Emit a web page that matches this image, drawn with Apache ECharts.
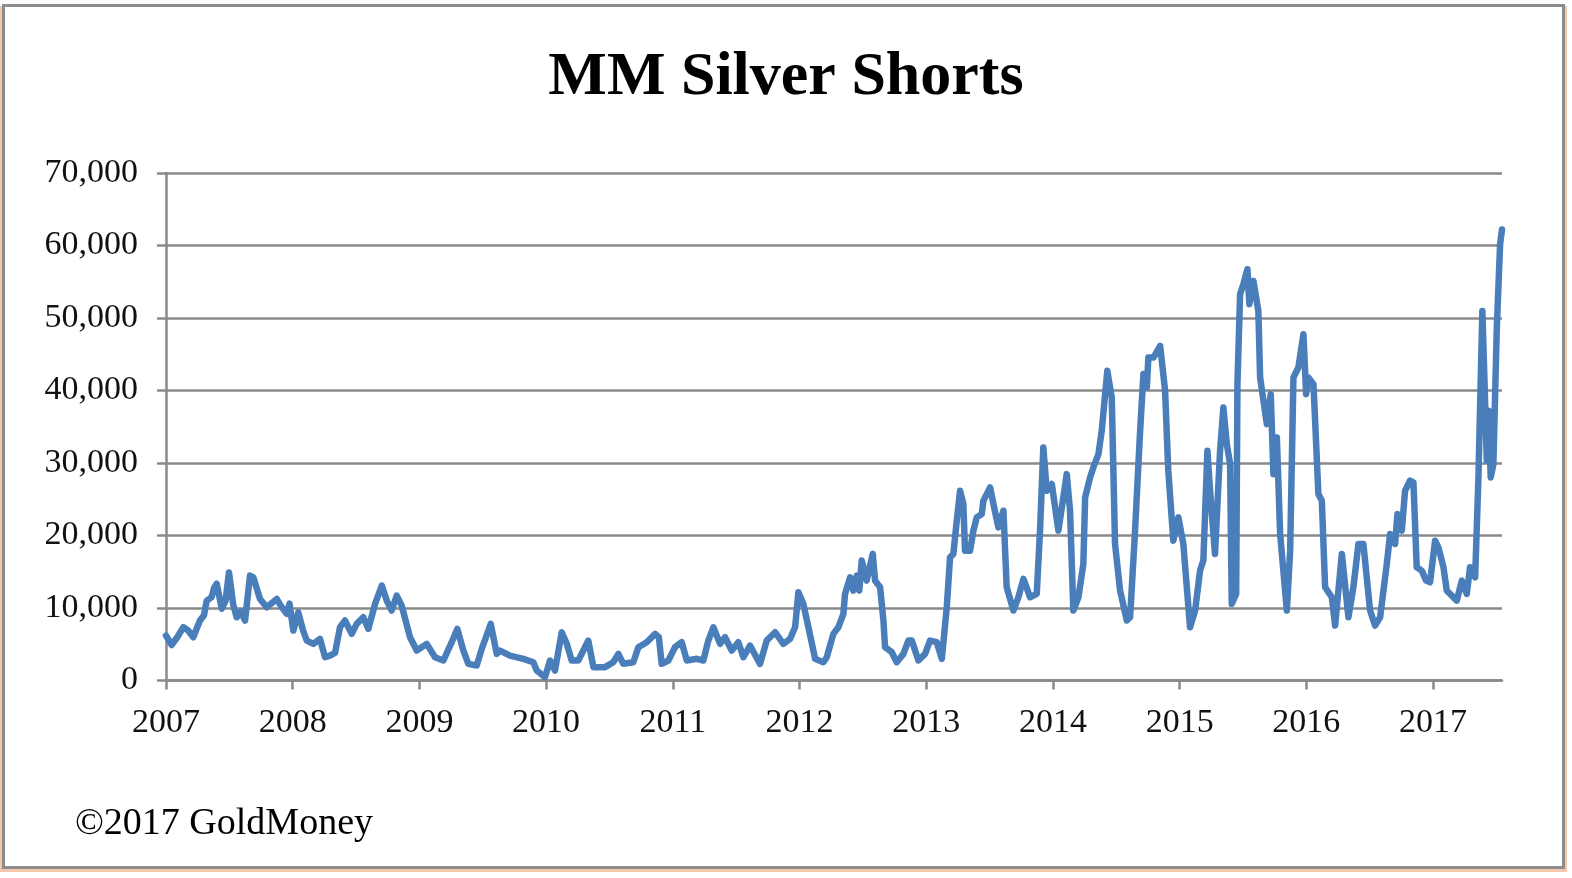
<!DOCTYPE html>
<html>
<head>
<meta charset="utf-8">
<script src="https://cdn.jsdelivr.net/npm/echarts@6/dist/echarts.min.js"></script>
<style>
html,body{margin:0;padding:0;background:#fff;}
#chart{width:1572px;height:878px;}
</style>
</head>
<body>
<div id="chart"></div>
<script>
// ---- data (decimal year, managed-money silver shorts, contracts) ----
const titleText = 'MM Silver Shorts';
const sourceText = '\u00A92017 GoldMoney';
const yearTicks = [2007, 2008, 2009, 2010, 2011, 2012, 2013, 2014, 2015, 2016, 2017];
const yTicks = [0, 10000, 20000, 30000, 40000, 50000, 60000, 70000];

const dates = [
  2007.000, 2007.045, 2007.090, 2007.137, 2007.175, 2007.215, 2007.268, 2007.300, 2007.321, 2007.360,
  2007.380, 2007.400, 2007.440, 2007.470, 2007.497, 2007.530, 2007.558, 2007.590, 2007.624, 2007.663,
  2007.689, 2007.742, 2007.795, 2007.874, 2007.910, 2007.953, 2007.975, 2008.005, 2008.044, 2008.080,
  2008.111, 2008.163, 2008.215, 2008.255, 2008.294, 2008.334, 2008.373, 2008.413, 2008.466, 2008.505,
  2008.557, 2008.597, 2008.650, 2008.703, 2008.742, 2008.781, 2008.821, 2008.860, 2008.926, 2008.979,
  2009.058, 2009.123, 2009.189, 2009.255, 2009.299, 2009.347, 2009.386, 2009.452, 2009.492, 2009.563,
  2009.610, 2009.636, 2009.715, 2009.820, 2009.899, 2009.926, 2009.991, 2010.031, 2010.070, 2010.123,
  2010.163, 2010.202, 2010.254, 2010.333, 2010.373, 2010.465, 2010.530, 2010.570, 2010.609, 2010.688,
  2010.728, 2010.794, 2010.860, 2010.890, 2010.912, 2010.965, 2011.017, 2011.070, 2011.110, 2011.189,
  2011.241, 2011.280, 2011.320, 2011.373, 2011.412, 2011.465, 2011.517, 2011.557, 2011.609, 2011.688,
  2011.741, 2011.807, 2011.872, 2011.925, 2011.965, 2011.991, 2012.030, 2012.070, 2012.123, 2012.188,
  2012.215, 2012.267, 2012.306, 2012.346, 2012.359, 2012.399, 2012.425, 2012.452, 2012.472, 2012.491,
  2012.530, 2012.578, 2012.596, 2012.636, 2012.662, 2012.675, 2012.728, 2012.767, 2012.820, 2012.859,
  2012.886, 2012.938, 2012.991, 2013.030, 2013.083, 2013.123, 2013.162, 2013.188, 2013.214, 2013.241,
  2013.267, 2013.293, 2013.306, 2013.346, 2013.372, 2013.399, 2013.438, 2013.451, 2013.504, 2013.530,
  2013.569, 2013.609, 2013.635, 2013.688, 2013.727, 2013.767, 2013.820, 2013.872, 2013.898, 2013.924,
  2013.951, 2013.991, 2014.043, 2014.109, 2014.135, 2014.161, 2014.201, 2014.240, 2014.254, 2014.293,
  2014.319, 2014.359, 2014.385, 2014.429, 2014.464, 2014.490, 2014.530, 2014.583, 2014.609, 2014.648,
  2014.688, 2014.714, 2014.741, 2014.753, 2014.793, 2014.846, 2014.885, 2014.910, 2014.950, 2014.990,
  2015.029, 2015.082, 2015.122, 2015.161, 2015.187, 2015.219, 2015.240, 2015.279, 2015.319, 2015.345,
  2015.372, 2015.398, 2015.411, 2015.446, 2015.456, 2015.477, 2015.503, 2015.535, 2015.550, 2015.582,
  2015.621, 2015.635, 2015.688, 2015.719, 2015.740, 2015.767, 2015.793, 2015.846, 2015.872, 2015.898,
  2015.937, 2015.977, 2015.998, 2016.016, 2016.056, 2016.095, 2016.122, 2016.148, 2016.201, 2016.227,
  2016.280, 2016.332, 2016.371, 2016.411, 2016.450, 2016.503, 2016.542, 2016.582, 2016.635, 2016.661,
  2016.700, 2016.719, 2016.753, 2016.779, 2016.818, 2016.845, 2016.871, 2016.911, 2016.945, 2016.976,
  2017.016, 2017.042, 2017.082, 2017.108, 2017.148, 2017.187, 2017.227, 2017.266, 2017.292, 2017.332,
  2017.358, 2017.389, 2017.405, 2017.424, 2017.437, 2017.455, 2017.476, 2017.503, 2017.529, 2017.544
];

const shorts = [
  6200, 4900, 6000, 7350, 6900, 5970, 8270, 9000, 11000, 11500,
  12800, 13350, 9900, 11000, 14900, 10500, 8720, 9500, 8270, 14470,
  14230, 11250, 10100, 11250, 10200, 9190, 10600, 6890, 9410, 7000,
  5510, 5050, 5740, 3210, 3440, 3800, 7340, 8270, 6430, 7810,
  8720, 7120, 10570, 13090, 11020, 9650, 11710, 10330, 5970, 4130,
  5050, 3210, 2760, 5280, 7120, 4130, 2300, 2070, 4360, 7810,
  3670, 4130, 3440, 2990, 2520, 1380, 460, 2760, 1380, 6660,
  5050, 2760, 2760, 5510, 1840, 1840, 2520, 3670, 2300, 2520,
  4590, 5280, 6430, 5970, 2300, 2760, 4590, 5280, 2760, 2990,
  2760, 5510, 7340, 5050, 5970, 4130, 5280, 3210, 4820, 2300,
  5510, 6660, 5050, 5740, 7340, 12170, 10570, 7340, 2990, 2520,
  3210, 6430, 7340, 9190, 11940, 14230, 12400, 14470, 12400, 16540,
  13780, 17460, 13780, 12860, 8270, 4590, 3900, 2520, 3670, 5510,
  5510, 2760, 3670, 5510, 5280, 2990, 10100, 16990, 17460, 22050,
  26180, 24350, 17910, 17910, 20670, 22500, 22960, 24800, 26640, 24350,
  21120, 23420, 12860, 9650, 11480, 14010, 11480, 11940, 20670, 32150,
  26180, 27100, 20670, 28470, 23420, 9650, 11480, 16080, 25260, 28010,
  29390, 31230, 34450, 42720, 39050, 18830, 12400, 8270, 8720, 20670,
  34450, 42260, 40420, 44550, 44550, 46160, 40000, 29000, 19290, 22500,
  18830, 7340, 9650, 15160, 16540, 31690, 26180, 17460, 31690, 37660,
  32610, 29850, 10570, 11940, 40880, 53290, 54660, 56730, 51910, 55120,
  50980, 41790, 35360, 39500, 28470, 33530, 20210, 9650, 17910, 41790,
  43170, 47760, 39500, 41790, 40880, 25720, 24800, 12860, 11480, 7580,
  17460, 8720, 12860, 18830, 18830, 9650, 7580, 8720, 16080, 20210,
  18830, 22960, 20670, 26180, 27560, 27330, 15620, 15160, 13780, 13550,
  19290, 18370, 15620, 12400, 11710, 11020, 13780, 11940, 15620, 14230,
  28010, 50980, 41790, 30310, 37200, 28010, 29850, 48680, 60150, 62200
];

const seriesData = dates.map((d, i) => [d, shorts[i]]);

const FONT = "'Liberation Serif', 'Times New Roman', serif";
const GRID_GRAY = '#8a8a8a';

const chart = echarts.init(document.getElementById('chart'), null, {renderer: 'canvas'});
chart.setOption({
  backgroundColor: '#ffffff',
  animation: false,
  title: {
    text: titleText,
    left: 'center',
    top: 42,
    textStyle: {fontFamily: FONT, fontSize: 62, fontWeight: 'bold', color: '#000'}
  },
  graphic: [
    {type: 'rect', z: -10, silent: true, shape: {x: 0, y: 6, width: 1567, height: 866}, style: {fill: '#f2c9ab'}},
    {type: 'rect', z: -9, silent: true, shape: {x: 3.5, y: 5.5, width: 1560, height: 862}, style: {fill: '#ffffff', stroke: '#8c8c8c', lineWidth: 3}},
    {type: 'text', left: 75, top: 805, style: {text: sourceText, font: "38px 'Liberation Serif', serif", fill: '#000'}}
  ],
  grid: {left: 166, right: 70, top: 173, bottom: 197.5, containLabel: false},
  xAxis: {
    type: 'value',
    min: 2007,
    max: 2017.544,
    interval: 1,
    splitLine: {show: false},
    axisLine: {show: true, lineStyle: {color: GRID_GRAY, width: 2.5}},
    axisTick: {show: true, length: 9, lineStyle: {color: GRID_GRAY, width: 2.5}, customValues: yearTicks},
    axisLabel: {
      customValues: yearTicks,
      margin: 26,
      fontFamily: FONT, fontSize: 34, color: '#111',
      formatter: v => String(Math.round(v))
    }
  },
  yAxis: {
    type: 'value',
    min: 0,
    max: 70000,
    interval: 10000,
    splitLine: {show: true, lineStyle: {color: GRID_GRAY, width: 2.5}},
    axisLine: {show: true, lineStyle: {color: GRID_GRAY, width: 2.5}},
    axisTick: {show: true, length: 9, lineStyle: {color: GRID_GRAY, width: 2.5}},
    axisLabel: {
      margin: 28,
      fontFamily: FONT, fontSize: 34, color: '#111',
      formatter: v => v.toLocaleString('en-US')
    }
  },
  series: [{
    type: 'line',
    data: seriesData,
    showSymbol: false,
    symbol: 'none',
    smooth: false,
    lineStyle: {color: '#4a7ebb', width: 6.5, join: 'round', cap: 'round'},
    clip: false
  }]
});
</script>
</body>
</html>
